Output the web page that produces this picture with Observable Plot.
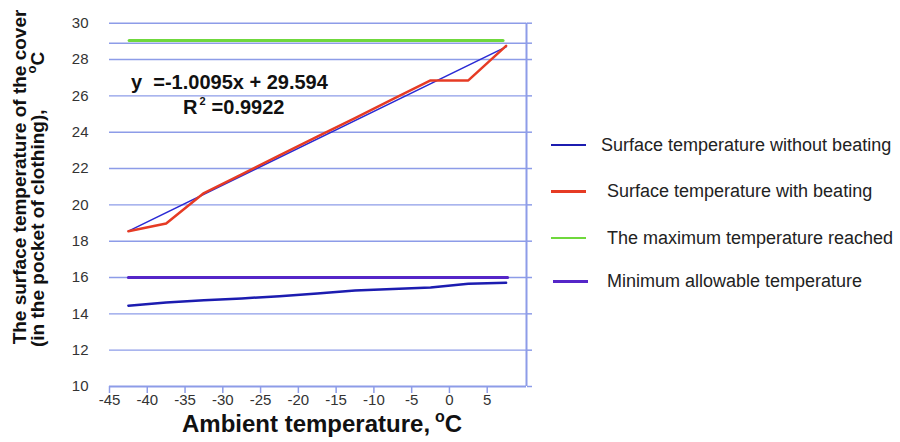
<!DOCTYPE html>
<html><head><meta charset="utf-8">
<script src="https://cdn.jsdelivr.net/npm/d3@7"></script>
<script src="https://cdn.jsdelivr.net/npm/@observablehq/plot@0.6"></script>
<style>
body{margin:0;background:#fff;}
#wrap{position:relative;width:900px;height:442px;font-family:"Liberation Sans",Arial,Helvetica,sans-serif;overflow:hidden;}
#wrap svg{position:absolute;left:0;top:0;}
.row{position:absolute;left:551px;height:22px;display:flex;align-items:center;font-size:18px;color:#222;white-space:nowrap;}
.sw{width:35px;height:2.5px;flex:none;}
</style></head><body><div id="wrap"></div>
<script>
// ---- data ----
const tempX = [-42.5, -37.5, -32.5, -27.5, -22.5, -17.5, -12.5, -7.5, -2.5, 2.5, 7.5];
const withoutBeating = [14.45, 14.63, 14.75, 14.85, 14.97, 15.12, 15.28, 15.37, 15.45, 15.65, 15.71];
const withBeating = [18.55, 18.97, 20.65, 21.68, 22.72, 23.75, 24.78, 25.82, 26.85, 26.85, 28.75];
const trendX = [-42.5, 7.5];
const trendY = [18.55, 28.7];
const maxX = [-42.4, 7.1];
const maxY = [29.05, 29.05];
const minX = [-42.5, 7.7];
const minY = [16, 16];
const xTicks = [-45, -40, -35, -30, -25, -20, -15, -10, -5, 0, 5];
const xTickLabels = ["-45", "-40", "-35", "-30", "-25", "-20", "-15", "-10", "-5", "0", "5"];
const yTicks = [10, 12, 14, 16, 18, 20, 22, 24, 26, 28, 30];
const extraGrid = [28.9];
const legendLabels = ["Surface temperature without beating", "Surface temperature with beating", "The maximum temperature reached", "Minimum allowable temperature"];
const legendColors = ["#1c1cb0", "#e63b24", "#6fd83c", "#5526c8"];

const gridColor = "#8d9ce8";
const rows = (xs, ys) => xs.map((x, i) => ({x, y: ys[i]}));
const xDomain = [-45, 10.2];
const xLabelRows = xTicks.map((x, i) => ({x, label: xTickLabels[i]}));

const chart = Plot.plot({
  width: 900, height: 442,
  marginLeft: 109, marginRight: 374, marginTop: 22.7, marginBottom: 56,
  x: {domain: xDomain},
  y: {domain: [10, 30]},
  style: {fontFamily: '"Liberation Sans", Arial, sans-serif', fontSize: "15px", background: "transparent", overflow: "visible"},
  marks: [
    Plot.ruleY([...yTicks.slice(1), ...extraGrid], {stroke: gridColor, strokeWidth: 1.4}),
    Plot.ruleY([10], {stroke: gridColor, strokeWidth: 2}),
    Plot.ruleX([xDomain[1]], {stroke: gridColor, strokeWidth: 2}),
    Plot.axisY({anchor: "right", ticks: [...yTicks, ...extraGrid], tickSize: 5, tickFormat: () => "", stroke: gridColor, strokeWidth: 1.5, label: null}),
    Plot.axisY({anchor: "left", ticks: yTicks, tickSize: 0, tickPadding: 21, tickFormat: d => String(d), fill: "#333", label: null, fontSize: 15}),
    Plot.axisX({anchor: "bottom", ticks: xTicks, tickSize: 7, tickFormat: () => "", stroke: gridColor, strokeWidth: 1.5, label: null}),
    Plot.text(xLabelRows, {x: "x", text: "label", frameAnchor: "bottom", dy: 18, fill: "#333", fontSize: 15}),
    Plot.line(rows(maxX, maxY), {x: "x", y: "y", stroke: legendColors[2], strokeWidth: 3}),
    Plot.line(rows(minX, minY), {x: "x", y: "y", stroke: legendColors[3], strokeWidth: 3}),
    Plot.line(rows(tempX, withoutBeating), {x: "x", y: "y", stroke: legendColors[0], strokeWidth: 2.5}),
    Plot.line(rows(trendX, trendY), {x: "x", y: "y", stroke: "#2a2ad4", strokeWidth: 1.5}),
    Plot.line(rows(tempX, withBeating), {x: "x", y: "y", stroke: legendColors[1], strokeWidth: 2.5})
  ]
});

const wrap = document.getElementById("wrap");
wrap.appendChild(chart);

const svg = d3.select(chart);
const bold = '"Liberation Sans", Arial, sans-serif';

// y title
svg.append("text")
  .attr("transform", "translate(25.5,177) rotate(-90)")
  .attr("text-anchor", "middle").attr("font-family", bold).attr("font-weight", "bold")
  .attr("font-size", 19).attr("fill", "#111")
  .text("The surface temperature of the cover");
const yt2 = svg.append("text")
  .attr("transform", "translate(43.5,347) rotate(-90)")
  .attr("text-anchor", "start").attr("font-family", bold).attr("font-weight", "bold")
  .attr("font-size", 19).attr("fill", "#111");
yt2.append("tspan").text("(in the pocket of clothing),");
yt2.append("tspan").attr("dx", 36).attr("dy", -8).attr("font-size", 13).text("o");
yt2.append("tspan").attr("dy", 8).text("C");

// x title
const xt = svg.append("text")
  .attr("x", 182).attr("y", 432).attr("text-anchor", "start")
  .attr("font-family", bold).attr("font-weight", "bold")
  .attr("font-size", 24).attr("fill", "#111");
xt.append("tspan").text("Ambient temperature,");
xt.append("tspan").attr("dx", 5).attr("dy", -10).attr("font-size", 16).text("o");
xt.append("tspan").attr("dy", 10).text("C");

// equation
svg.append("text")
  .attr("x", 131).attr("y", 89).attr("text-anchor", "start")
  .attr("font-family", bold).attr("font-weight", "bold")
  .attr("font-size", 20).attr("fill", "#111")
  .attr("xml:space", "preserve").style("white-space", "pre")
  .text("y  =-1.0095x + 29.594");
const r2 = svg.append("text")
  .attr("x", 183).attr("y", 114).attr("text-anchor", "start")
  .attr("font-family", bold).attr("font-weight", "bold")
  .attr("font-size", 20).attr("fill", "#111");
r2.append("tspan").text("R");
r2.append("tspan").attr("dx", 2).attr("dy", -9).attr("font-size", 11).text("2");
r2.append("tspan").attr("dx", 6).attr("dy", 9).text("=0.9922");

// legend
const centers = [145, 191.5, 238, 281.5];
legendLabels.forEach((lab, i) => {
  const row = document.createElement("div");
  row.className = "row";
  row.style.top = (centers[i] - 11) + "px";
  if (i === 3) row.style.left = "553px";
  const sw = document.createElement("div");
  sw.className = "sw";
  sw.style.background = legendColors[i];
  const t = document.createElement("span");
  t.style.marginLeft = (i === 0 ? 15 : (i === 3 ? 19 : 21)) + "px";
  t.textContent = lab;
  row.appendChild(sw); row.appendChild(t);
  wrap.appendChild(row);
});
</script></body></html>
